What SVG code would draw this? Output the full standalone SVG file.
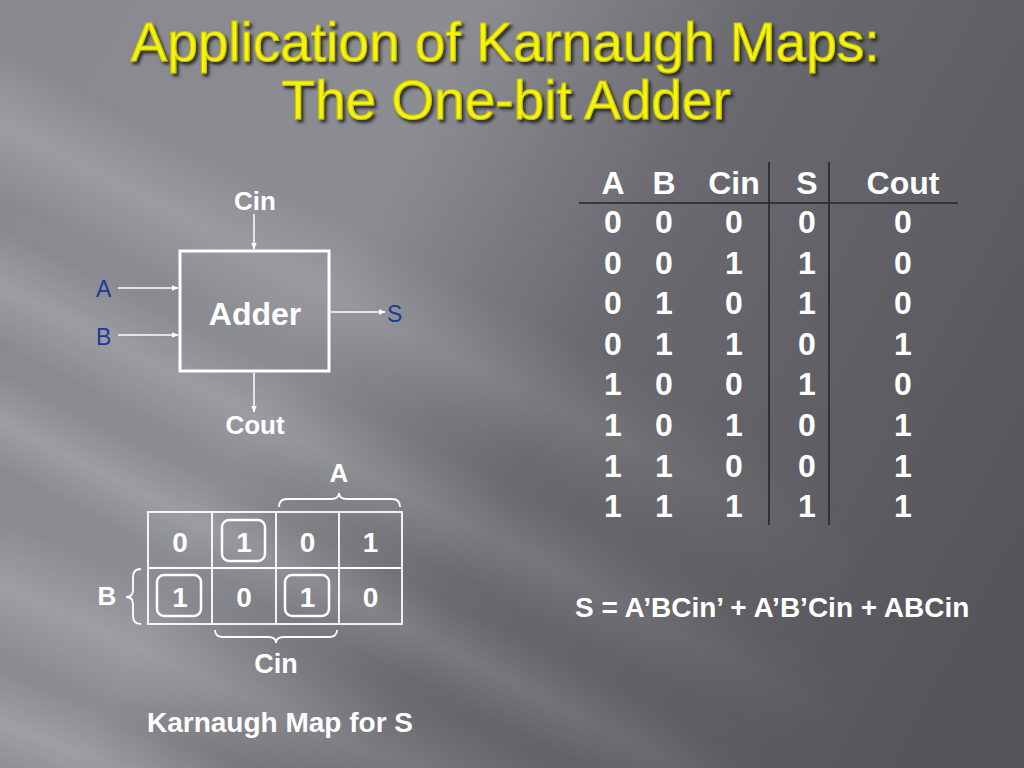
<svg xmlns="http://www.w3.org/2000/svg" width="1024" height="768" viewBox="0 0 1024 768">
<defs>
<linearGradient id="bg" x1="0" y1="0.3" x2="1" y2="0.7">
<stop offset="0" stop-color="#89898f"/>
<stop offset="0.3" stop-color="#8c8c93"/>
<stop offset="0.55" stop-color="#69696f"/>
<stop offset="1" stop-color="#55555a"/>
</linearGradient>
<linearGradient id="streak" x1="0" y1="0" x2="0" y2="1">
<stop offset="0" stop-color="#ffffff" stop-opacity="0"/>
<stop offset="0.5" stop-color="#ffffff" stop-opacity="0.17"/>
<stop offset="1" stop-color="#ffffff" stop-opacity="0"/>
</linearGradient>
<linearGradient id="fade" x1="0" y1="0" x2="1" y2="0">
<stop offset="0" stop-color="#ffffff" stop-opacity="1"/>
<stop offset="0.55" stop-color="#ffffff" stop-opacity="0.6"/>
<stop offset="0.85" stop-color="#ffffff" stop-opacity="0"/>
</linearGradient>
<mask id="m"><rect width="1024" height="768" fill="url(#fade)"/></mask>
<filter id="sh" x="-5%" y="-20%" width="110%" height="150%"><feDropShadow dx="2.5" dy="3" stdDeviation="1.6" flood-color="#1e1e1e" flood-opacity="0.85"/></filter>
<marker id="arr" viewBox="0 0 10 10" refX="9" refY="5" markerWidth="7" markerHeight="7" markerUnits="userSpaceOnUse" orient="auto">
<path d="M0,1 L10,5 L0,9 z" fill="#ffffff"/>
</marker>
<style>
.title{font-family:"Liberation Sans",Arial,sans-serif;font-size:55px;text-anchor:middle;fill:#f4f40a;stroke:#c8c400;stroke-width:1.1}
.lbl{font-family:"Liberation Sans",Arial,sans-serif;font-weight:bold;fill:#ffffff}
.blue{font-family:"Liberation Sans",Arial,sans-serif;font-size:23px;fill:#1c3a96}
.tt{font-family:"Liberation Sans",Arial,sans-serif;font-weight:bold;font-size:32px;fill:#ffffff;text-anchor:middle}
.km{font-family:"Liberation Sans",Arial,sans-serif;font-weight:bold;font-size:28px;fill:#ffffff;text-anchor:middle}
.wire{stroke:#ffffff;stroke-width:1.5;fill:none}
.brace{stroke:#ffffff;stroke-width:1.8;fill:none}
.grid{stroke:#ffffff;stroke-width:1.8;fill:none}
.ring{stroke:#ffffff;stroke-width:2.5;fill:none}
.tline{stroke:#26262a;stroke-width:1.6}
</style>
</defs>
<rect width="1024" height="768" fill="url(#bg)"/>
<g mask="url(#m)">
<rect x="-200" y="40" width="1500" height="140" fill="url(#streak)" transform="rotate(27 0 0)"/>
<rect x="-200" y="200" width="1500" height="110" fill="url(#streak)" transform="rotate(27 0 0)"/>
<rect x="-200" y="330" width="1500" height="90" fill="url(#streak)" transform="rotate(27 0 0)"/>
<rect x="-200" y="470" width="1500" height="130" fill="url(#streak)" transform="rotate(24 0 0)"/>
<rect x="-200" y="620" width="1500" height="100" fill="url(#streak)" transform="rotate(22 0 0)"/>
</g>
<g id="title" filter="url(#sh)">
<text class="title" x="505" y="61">Application of Karnaugh Maps:</text>
<text class="title" x="506" y="119">The One-bit Adder</text>
</g>
<g id="adder">
<rect x="180" y="251" width="149" height="120" fill="none" stroke="#ffffff" stroke-width="3"/>
<text class="lbl" x="255" y="325" font-size="32" text-anchor="middle">Adder</text>
</g>
<g id="label-cin"><text class="lbl" x="255" y="210" font-size="26" text-anchor="middle">Cin</text></g>
<g id="label-cout"><text class="lbl" x="255" y="434" font-size="26" text-anchor="middle">Cout</text></g>
<g id="label-a"><text class="blue" x="96" y="297">A</text></g>
<g id="label-b"><text class="blue" x="96" y="345">B</text></g>
<g id="label-s"><text class="blue" x="387" y="322">S</text></g>
<g id="connectors">
<line class="wire" x1="254" y1="214" x2="254" y2="249" marker-end="url(#arr)"/>
<line class="wire" x1="118" y1="288" x2="178" y2="288" marker-end="url(#arr)"/>
<line class="wire" x1="118" y1="335" x2="178" y2="335" marker-end="url(#arr)"/>
<line class="wire" x1="331" y1="312" x2="385" y2="312" marker-end="url(#arr)"/>
<line class="wire" x1="254" y1="373" x2="254" y2="412" marker-end="url(#arr)"/>
</g>
<g id="truth-table">
<line class="tline" x1="579" y1="203" x2="958" y2="203"/>
<line class="tline" x1="769" y1="162" x2="769" y2="525"/>
<line class="tline" x1="829" y1="162" x2="829" y2="525"/>
<g class="tt">
<text x="613" y="194">A</text><text x="664" y="194">B</text><text x="734" y="194">Cin</text><text x="807" y="194">S</text><text x="903" y="194">Cout</text>
<text x="613" y="233">0</text><text x="664" y="233">0</text><text x="734" y="233">0</text><text x="807" y="233">0</text><text x="903" y="233">0</text>
<text x="613" y="273.6">0</text><text x="664" y="273.6">0</text><text x="734" y="273.6">1</text><text x="807" y="273.6">1</text><text x="903" y="273.6">0</text>
<text x="613" y="314.2">0</text><text x="664" y="314.2">1</text><text x="734" y="314.2">0</text><text x="807" y="314.2">1</text><text x="903" y="314.2">0</text>
<text x="613" y="354.8">0</text><text x="664" y="354.8">1</text><text x="734" y="354.8">1</text><text x="807" y="354.8">0</text><text x="903" y="354.8">1</text>
<text x="613" y="395.4">1</text><text x="664" y="395.4">0</text><text x="734" y="395.4">0</text><text x="807" y="395.4">1</text><text x="903" y="395.4">0</text>
<text x="613" y="436">1</text><text x="664" y="436">0</text><text x="734" y="436">1</text><text x="807" y="436">0</text><text x="903" y="436">1</text>
<text x="613" y="476.6">1</text><text x="664" y="476.6">1</text><text x="734" y="476.6">0</text><text x="807" y="476.6">0</text><text x="903" y="476.6">1</text>
<text x="613" y="517.2">1</text><text x="664" y="517.2">1</text><text x="734" y="517.2">1</text><text x="807" y="517.2">1</text><text x="903" y="517.2">1</text>
</g>
</g>
<g id="equation"><text class="lbl" x="575" y="617" font-size="28">S = A’BCin’ + A’B’Cin + ABCin</text></g>
<g id="kmap">
<rect class="grid" x="148" y="512" width="254" height="112"/>
<line class="grid" x1="148" y1="568" x2="402" y2="568"/>
<line class="grid" x1="212" y1="512" x2="212" y2="624"/>
<line class="grid" x1="276" y1="512" x2="276" y2="624"/>
<line class="grid" x1="339" y1="512" x2="339" y2="624"/>
<rect class="ring" x="222" y="520" width="43" height="41" rx="7"/>
<rect class="ring" x="157" y="575" width="44" height="41" rx="7"/>
<rect class="ring" x="285" y="575" width="44" height="41" rx="7"/>
<text class="km" x="180" y="552">0</text><text class="km" x="244" y="552">1</text><text class="km" x="307.5" y="552">0</text><text class="km" x="370.5" y="552">1</text>
<text class="km" x="180" y="607">1</text><text class="km" x="244" y="607">0</text><text class="km" x="307.5" y="607">1</text><text class="km" x="370.5" y="607">0</text>
</g>
<g id="brace-a">
<path class="brace" d="M279,507 Q279,499 287,499 L331,499 Q339,499 339,493 Q339,499 347,499 L392,499 Q400,499 400,507"/>
<text class="lbl" x="339" y="482" font-size="26" text-anchor="middle">A</text>
</g>
<g id="brace-b">
<path class="brace" d="M141,569 Q133,569 133,577 L133,590 Q133,597 126,597 Q133,597 133,604 L133,616 Q133,624 141,624"/>
<text class="lbl" x="107" y="605" font-size="26" text-anchor="middle">B</text>
</g>
<g id="brace-cin">
<path class="brace" d="M215,630 Q215,637 223,637 L268,637 Q276,637 276,643 Q276,637 284,637 L329,637 Q337,637 337,630"/>
<text class="lbl" x="276" y="673" font-size="27" text-anchor="middle">Cin</text>
</g>
<g id="caption"><text class="lbl" x="147" y="732" font-size="28">Karnaugh Map for S</text></g>
</svg>
